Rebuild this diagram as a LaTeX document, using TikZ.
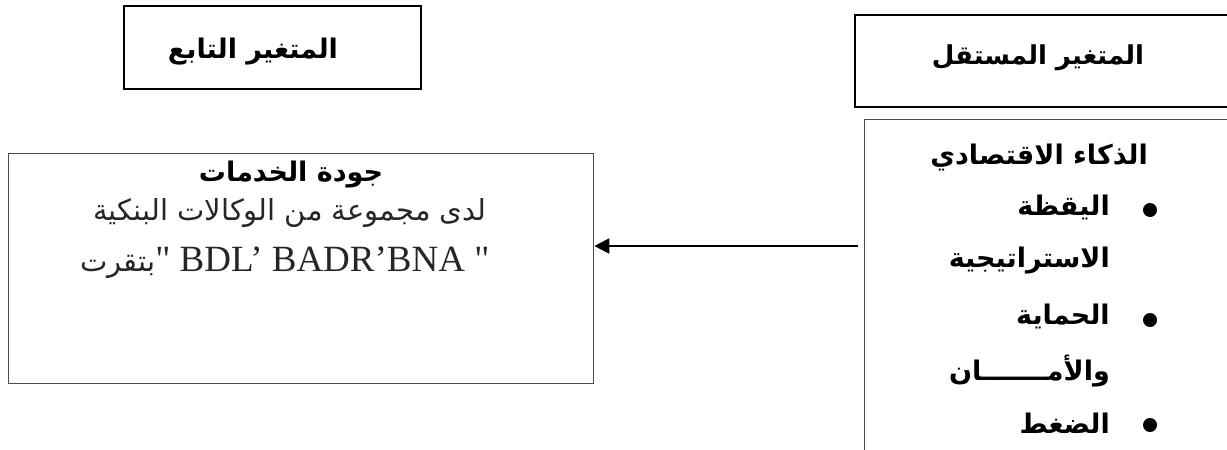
\documentclass[tikz,border=0pt]{standalone}
\usepackage{fontspec}
\setmainfont{Liberation Serif}
\newfontfamily\latinfont{Liberation Serif}
\newfontfamily\arabicfont[Script=Arabic]{DejaVu Sans}
\TeXXeTstate=1
\usetikzlibrary{arrows.meta,calc}

\begin{document}
\begin{tikzpicture}[x=1pt,y=-1pt,
  frame/.style={draw=black, line width=2pt, inner sep=0pt, anchor=north west},
  thinframe/.style={draw=black!70, line width=1.3pt, inner sep=0pt, anchor=north west},
  boldar/.style={font=\arabicfont\bfseries\fontsize{27}{31}\selectfont, inner sep=0pt},
  plainar/.style={font=\arabicfont\fontsize{29}{33}\selectfont, text=black!85, inner sep=0pt},
  latin/.style={font=\latinfont\fontsize{37}{41}\selectfont, text=black!85, inner sep=0pt},
  bullet/.style={circle, fill=black, inner sep=0pt, minimum size=14pt},
  link/.style={line width=2pt, -{Triangle[length=15pt,width=15pt]}}
]
\useasboundingbox (0,0) rectangle (1227,450);
\clip (0,0) rectangle (1227,450);

% title boxes
\node[frame, minimum width=297pt, minimum height=83pt] (depTitle) at (123,5) {};
\node[boldar, anchor=base] (depTitleText) at (253,58) {\beginR المتغير التابع\endR};

\node[frame, minimum width=390pt, minimum height=92pt] (indTitle) at (854,14) {};
\node[boldar, font=\arabicfont\bfseries\fontsize{26}{30}\selectfont, anchor=base] (indTitleText) at (1038,64) {\beginR المتغير المستقل\endR};

% dependent variable box
\node[thinframe, minimum width=585pt, minimum height=230pt] (dep) at (8,153) {};
\node[boldar, anchor=base] (depHead) at (291,181) {\beginR جودة الخدمات\endR};
\node[plainar, anchor=base] (depLine2) at (290,220) {\beginR لدى مجموعة من الوكالات البنكية\endR};
\node[latin, anchor=base] (depLine3) at (285,271)
  {{\arabicfont\fontsize{29}{33}\selectfont\beginR بتقرت\endR}" BDL’ BADR’BNA "};

% independent variable box (runs past the lower and right edges)
\node[thinframe, minimum width=400pt, minimum height=360pt] (ind) at (864,119) {};
\node[boldar, anchor=base east] (indHead) at (1148,164) {\beginR الذكاء الاقتصادي\endR};
\node[boldar, anchor=base east] (item1) at (1110,215) {\beginR اليقظة\endR};
\node[boldar, anchor=base east] (item1b) at (1110,267) {\beginR الاستراتيجية\endR};
\node[boldar, anchor=base east] (item2) at (1110,324) {\beginR الحماية\endR};
\node[boldar, anchor=base east] (item2b) at (1110,380) {\beginR والأمـــــــان\endR};
\node[boldar, anchor=base east] (item3) at (1110,433) {\beginR الضغط\endR};
\node[bullet] (b1) at (1150,210) {};
\node[bullet] (b2) at (1150,320) {};
\node[bullet] (b3) at (1150,425) {};

% influence arrow
\coordinate (arrowTail) at (858,246);
\draw[link] (arrowTail) -- (arrowTail -| dep.east);
\end{tikzpicture}
\end{document}
